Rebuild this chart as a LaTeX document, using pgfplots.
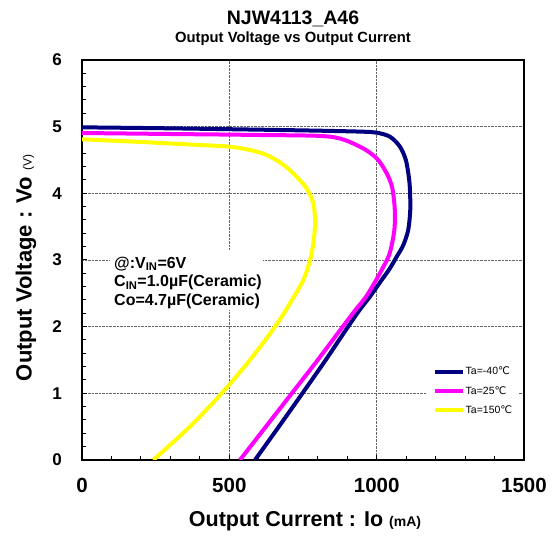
\documentclass[border=0pt]{standalone}
\usepackage{pgfplots}
\pgfplotsset{compat=1.18}
\usepackage{fontspec}
\setmainfont{Liberation Sans}
\newfontfamily\dejavu{DejaVu Sans}
\definecolor{c40}{RGB}{0,0,128}
\definecolor{c25}{RGB}{255,0,255}
\definecolor{c150}{RGB}{255,255,0}
\newcommand{\degC}{{\dejavu ℃}}
\begin{document}
\begin{tikzpicture}
\path[use as bounding box] (0,0) rectangle (557bp,536bp);
\begin{axis}[
  at={(82bp,76bp)}, anchor=south west,
  scale only axis, width=442bp, height=400bp,
  xmin=0, xmax=1500, ymin=0, ymax=6,
  xtick={0,500,1000,1500}, ytick={0,1,2,3,4,5,6},
  minor x tick num=4, minor y tick num=4,
  tick pos=left, tick align=inside,
  major tick length=5bp, minor tick length=4bp,
  every tick/.style={black, line width=1bp},
  axis line style={black, line width=1.5bp},
  grid=major,
  major grid style={densely dotted, black!60, line width=0.6bp},
  /pgf/number format/assume math mode=true,
  /pgf/number format/1000 sep={},
  xticklabel style={font=\fontsize{20.5bp}{20.5bp}\selectfont\bfseries, anchor=north, inner sep=0pt, yshift=-18bp},
  yticklabel style={font=\fontsize{17bp}{17bp}\selectfont\bfseries, anchor=east, inner sep=0pt, xshift=-20bp},
  legend style={at={(axis description cs:0.7805,0.245)}, anchor=north west, draw=none, fill=white,
    inner xsep=6bp, inner ysep=4bp, row sep=8bp, column sep=0pt,
    font=\fontsize{10.5bp}{10.5bp}\selectfont,
    nodes={inner xsep=0.5bp, inner ysep=1bp}},
  legend cell align=left,
  legend image code/.code={\draw[#1] (0bp,0bp) -- (28bp,0bp);},
]
\fill[white] (axis cs:95,2.25) rectangle (axis cs:614,3.15);
\addplot[c40, line width=4bp, smooth, tension=0.5] coordinates {
(0,4.99) (300,4.975) (600,4.955) (800,4.94) (950,4.925) (1000,4.91)
(1045,4.85) (1079,4.70) (1099,4.50) (1109,4.25) (1113,4.05) (1114,3.75)
(1107,3.45) (1090,3.22) (1068,3.05) (1045,2.875) (1017,2.70) (977,2.45)
(942,2.25) (903,2.00) (827,1.50) (748,1.00) (668,0.50) (587,0.00)};
\addlegendentry{Ta=-40\degC}
\addplot[c25, line width=4bp, smooth, tension=0.5] coordinates {
(0,4.905) (300,4.89) (600,4.875) (842,4.85) (943,4.70) (1000,4.525)
(1034,4.30) (1052,4.10) (1060,3.85) (1062,3.65) (1060,3.45) (1051,3.22)
(1040,3.05) (1017,2.85) (995,2.675) (964,2.45) (928,2.25) (885,2.00)
(800,1.50) (712,1.00) (624,0.50) (536,0.00)};
\addlegendentry{Ta=25\degC}
\addplot[c150, line width=4bp, smooth, tension=0.5] coordinates {
(0,4.81) (200,4.77) (400,4.725) (500,4.70) (570,4.65) (627,4.575)
(683,4.43) (728,4.25) (762,4.075) (785,3.85) (791,3.55) (785,3.25)
(774,3.00) (751,2.70) (706,2.35) (655,2.00) (570,1.50) (474,1.00)
(366,0.50) (242,0.00)};
\addlegendentry{Ta=150\degC}
\node[anchor=base west, inner sep=0pt, font=\fontsize{16bp}{16bp}\selectfont\bfseries] at (axis cs:108.6,2.88) {@:V\textsubscript{IN}=6V};
\node[anchor=base west, inner sep=0pt, font=\fontsize{16bp}{16bp}\selectfont\bfseries] at (axis cs:108.6,2.60) {C\textsubscript{IN}=1.0µF(Ceramic)};
\node[anchor=base west, inner sep=0pt, font=\fontsize{16bp}{16bp}\selectfont\bfseries] at (axis cs:108.6,2.325) {Co=4.7µF(Ceramic)};
\end{axis}
\node[anchor=base, inner sep=0pt, font=\fontsize{19.5bp}{19.5bp}\selectfont\bfseries] at (293bp,511bp) {NJW4113\_A46};
\node[anchor=base, inner sep=0pt, font=\fontsize{14.8bp}{14.8bp}\selectfont\bfseries] at (293bp,493.7bp) {Output Voltage vs Output Current};
\node[anchor=base, inner sep=0pt, font=\fontsize{21.5bp}{21.5bp}\selectfont\bfseries] at (305bp,10bp) {Output Current : Io {\fontsize{14bp}{14bp}\selectfont(mA)}};
\node[anchor=base, rotate=90, inner sep=0pt, font=\fontsize{22bp}{22bp}\selectfont\bfseries] at (31.7bp,268bp) {Output Voltage : Vo {\fontsize{12bp}{12bp}\selectfont\mdseries(V)}};
\end{tikzpicture}
\end{document}
